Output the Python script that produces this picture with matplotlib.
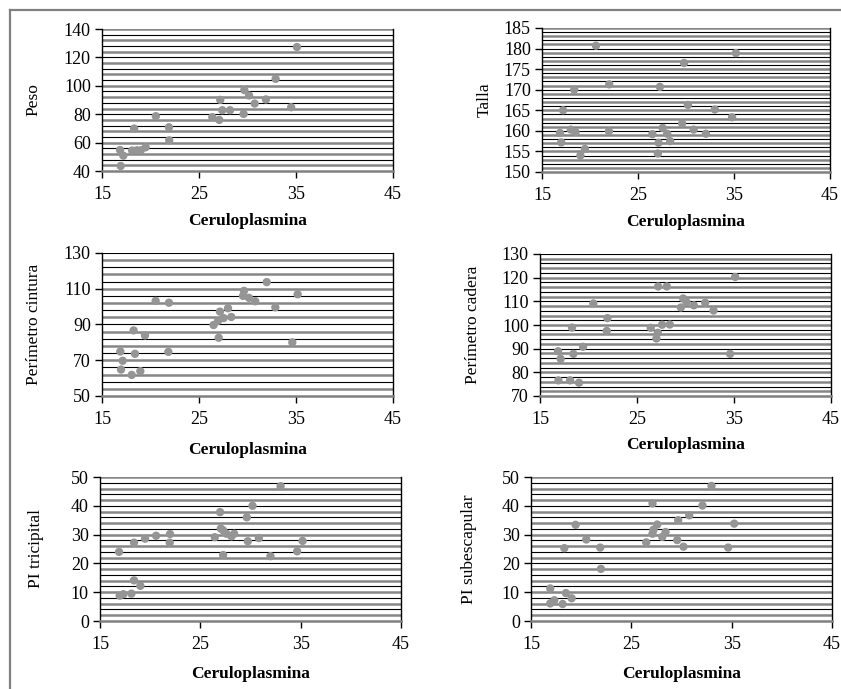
import numpy as np
import matplotlib
matplotlib.use('Agg')
import matplotlib.pyplot as plt
from matplotlib.lines import Line2D

plt.rcParams['font.family'] = ['Liberation Serif', 'DejaVu Serif']

# ── Data ─────────────────────────────────────────────────────────────────
xlabel = "Ceruloplasmina"

peso_x = [16.86, 17.2, 16.93, 18.1, 18.6, 19.0, 19.5, 18.31, 20.55, 21.9, 21.93,
          26.37, 27.09, 27.19, 27.4, 28.2, 29.67, 29.6, 30.16, 30.74, 31.9, 32.9,
          34.5, 35.1]
peso_y = [54.8, 50.8, 43.5, 54.4, 54.6, 54.6, 56.7, 69.9, 78.6, 70.8, 61.6,
          77.9, 76.0, 90.1, 82.8, 82.8, 97.0, 80.2, 93.2, 87.5, 90.4, 104.9,
          84.9, 127.3]

talla_x = [20.62, 35.2, 29.8, 22.0, 18.36, 27.28, 30.2, 33.0, 17.2, 34.8, 29.6,
           27.56, 18.0, 18.5, 16.87, 21.97, 26.5, 28.04, 30.8, 32.07, 17.0,
           27.14, 28.35, 19.47, 19.0, 27.07]
talla_y = [180.7, 178.9, 176.5, 171.3, 170.0, 170.7, 166.3, 165.2, 165.0, 163.3,
           161.8, 160.7, 160.3, 159.7, 159.5, 159.9, 159.2, 159.3, 160.3, 159.3,
           157.2, 157.1, 157.5, 155.6, 154.0, 154.5]

cintura_x = [16.89, 17.13, 16.96, 18.06, 18.4, 18.26, 18.95, 19.43, 20.53, 21.9,
             21.84, 26.5, 26.96, 27.54, 27.16, 27.99, 28.33, 27.03, 29.64, 29.54,
             30.15, 30.8, 31.98, 32.87, 34.62, 35.17]
cintura_y = [74.9, 69.7, 64.8, 61.8, 73.6, 86.7, 63.9, 83.9, 103.2, 102.2,
             74.7, 89.7, 92.0, 93.6, 97.2, 99.1, 94.2, 82.6, 108.8, 106.0,
             104.9, 103.0, 113.7, 99.6, 80.0, 106.9]

cadera_x = [35.12, 27.18, 28.07, 29.76, 30.1, 30.86, 32.03, 29.52, 32.89, 20.5,
            21.95, 21.88, 18.3, 26.42, 27.14, 27.0, 27.59, 28.38, 19.44, 16.86,
            17.13, 18.44, 34.6, 16.9, 18.1, 19.02]
cadera_y = [120.3, 116.3, 116.3, 111.2, 109.7, 108.3, 109.4, 107.4, 106.1, 109.1,
            102.9, 97.5, 98.9, 98.8, 96.7, 94.3, 100.1, 100.2, 90.8, 88.9,
            85.7, 87.8, 87.8, 76.6, 76.6, 75.6]

tricipital_x = [33.0, 26.97, 30.2, 29.63, 27.04, 27.27, 27.6, 28.1, 28.37, 26.44,
                29.73, 30.83, 27.27, 31.99, 34.65, 35.19, 16.9, 18.39, 19.49, 20.59,
                21.98, 21.95, 18.39, 19.02, 18.13, 16.96, 17.33]
tricipital_y = [46.8, 37.8, 40.0, 36.0, 32.1, 31.5, 30.3, 29.4, 30.3, 29.1,
                27.7, 28.8, 22.9, 22.5, 24.2, 27.8, 24.0, 27.2, 28.6, 29.6,
                30.2, 27.2, 14.1, 12.2, 9.5, 8.8, 9.3]

subescapular_x = [32.99, 27.11, 32.09, 30.77, 29.67, 35.25, 27.58, 27.21, 27.11,
                  28.41, 28.08, 26.48, 29.57, 30.2, 34.65, 19.45, 20.51, 21.9,
                  18.32, 21.97, 16.92, 18.48, 19.05, 17.32, 16.92, 18.15]
subescapular_y = [46.9, 40.8, 40.1, 36.7, 35.0, 33.8, 33.5, 31.7, 30.3,
                  30.9, 29.2, 27.3, 28.1, 25.8, 25.5, 33.4, 28.3, 25.5,
                  25.3, 18.1, 11.3, 9.7, 7.9, 7.2, 6.1, 5.9]

# (ylabel, x, y, ymin, ymax, major step, minor step)
panels = [
    ("Peso", peso_x, peso_y, 40, 140, 20, 4),
    ("Talla", talla_x, talla_y, 150, 185, 5, 1),
    ("Perímetro cintura", cintura_x, cintura_y, 50, 130, 20, 4),
    ("Perímetro cadera", cadera_x, cadera_y, 70, 130, 10, 2),
    ("PI tricipital", tricipital_x, tricipital_y, 0, 50, 10, 2),
    ("PI subescapular", subescapular_x, subescapular_y, 0, 50, 10, 2),
]

# axes rectangles (pixels: left, top, right, bottom) and label pads
W, H = 841, 689
rects_px = [
    (102, 29, 393, 171),
    (542, 28, 830, 172),
    (102, 253, 393, 396),
    (540, 254, 831, 396),
    (100, 477, 401, 621),
    (531, 477, 832, 621),
]
xpads = [7, 7, 10, 6, 9, 9]
ypads = [16, 8, 16, 15, 19, 18]

fig = plt.figure(figsize=(W / 100, H / 100), dpi=100)

# ── Outer frame (top + left) ─────────────────────────────────────────────
fig.add_artist(Line2D([10 / W, 1.0], [1 - 10 / H, 1 - 10 / H], color='#808080', lw=1.6))
fig.add_artist(Line2D([10 / W, 10 / W], [0.0, 1 - 10 / H], color='#808080', lw=1.6))

for (ylab, xs, ys, ymin, ymax, major, minor), (l, t, r, b), xp, yp in zip(
        panels, rects_px, xpads, ypads):
    ax = fig.add_axes([l / W, 1 - b / H, (r - l) / W, (b - t) / H])

    # dense horizontal gridlines
    levels = np.arange(ymin + minor, ymax + minor / 2, minor)
    for i, lv in enumerate(levels):
        if i % 2 == 0:
            ax.axhline(lv, color='#868686', lw=1.8, zorder=1)
        else:
            ax.axhline(lv, color='black', lw=0.8, zorder=1)

    ax.scatter(xs, ys, s=36, color='#959595', edgecolors='none', zorder=3)

    ax.set_xlim(15, 45)
    ax.set_ylim(ymin, ymax)
    ax.set_xticks([15, 25, 35, 45])
    ax.set_yticks(np.arange(ymin, ymax + 0.1, major))

    ax.spines['top'].set_visible(False)
    ax.spines['left'].set_color('black')
    ax.spines['left'].set_linewidth(1.0)
    ax.spines['right'].set_color('black')
    ax.spines['right'].set_linewidth(1.0)
    ax.spines['bottom'].set_color('#808080')
    ax.spines['bottom'].set_linewidth(1.8)

    ax.tick_params(axis='both', direction='out', length=5, width=1,
                   labelsize=13, colors='black', pad=3)
    ax.tick_params(axis='x', pad=6)

    ax.set_xlabel(xlabel, fontsize=12.5, fontweight='bold', labelpad=xp)
    ax.set_ylabel(ylab, fontsize=12.5, labelpad=yp)

plt.savefig("out.png", dpi=100)
